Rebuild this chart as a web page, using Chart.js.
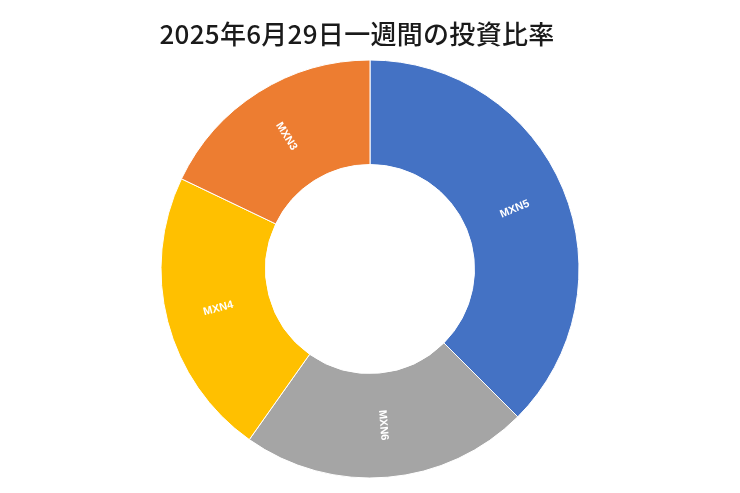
<!DOCTYPE html>
<html>
<head>
<meta charset="utf-8">
<script src="https://cdn.jsdelivr.net/npm/chart.js@4.4.0/dist/chart.umd.min.js"></script>
<style>
html, body { margin: 0; padding: 0; background: #fff; }
#wrap { position: relative; width: 740px; height: 493px; }
#title {
    position: absolute; left: 0; top: 15px; width: 714px; line-height: 36px;
    text-align: center; font-family: "Noto Sans CJK JP"; font-size: 26px;
    font-weight: 500; color: #1a1a1a; letter-spacing: 0.3px;
}
canvas { position: absolute; left: 0; top: 0; }
</style>
</head>
<body>
<div id="wrap">
    <canvas id="ratio" width="740" height="493"></canvas>
    <div id="title">2025年6月29日一週間の投資比率</div>
</div>
<script>
// clockwise from 12 o'clock
const labels = ["MXN5", "MXN6", "MXN4", "MXN3"];
const values = [37.5, 22.3, 22.3, 17.9];
const sliceColors = ["#4472C4", "#A5A5A5", "#FFC000", "#ED7D31"];

// white labels, turned across the ring like the original
const sliceLabels = {
    id: "sliceLabels",
    afterDatasetsDraw(chart) {
        const ctx = chart.ctx;
        const arcs = chart.getDatasetMeta(0).data;
        ctx.save();
        ctx.fillStyle = "#ffffff";
        ctx.font = "bold 11px 'Liberation Sans'";
        ctx.textAlign = "center";
        ctx.textBaseline = "middle";
        arcs.forEach((arc, i) => {
            const pos = arc.tooltipPosition();
            const p = arc.getProps(["startAngle", "endAngle"]);
            let rot = (p.startAngle + p.endAngle) / 2;
            while (rot > Math.PI / 2) rot -= Math.PI;
            while (rot < -Math.PI / 2) rot += Math.PI;
            ctx.save();
            ctx.translate(pos.x, pos.y);
            ctx.rotate(rot);
            ctx.fillText(labels[i], 0, 0);
            ctx.restore();
        });
        ctx.restore();
    }
};

new Chart("ratio", {
    type: "doughnut",
    data: {
        labels: labels,
        datasets: [{
            data: values,
            backgroundColor: sliceColors,
            borderColor: "#ffffff",
            borderWidth: 1
        }]
    },
    options: {
        responsive: false,
        animation: false,
        cutout: "50%",
        radius: 209,
        layout: { padding: { top: 60, bottom: 15 } },
        plugins: {
            legend: { display: false },
            title: { display: false },
            tooltip: { enabled: false }
        }
    },
    plugins: [sliceLabels]
});
</script>
</body>
</html>
